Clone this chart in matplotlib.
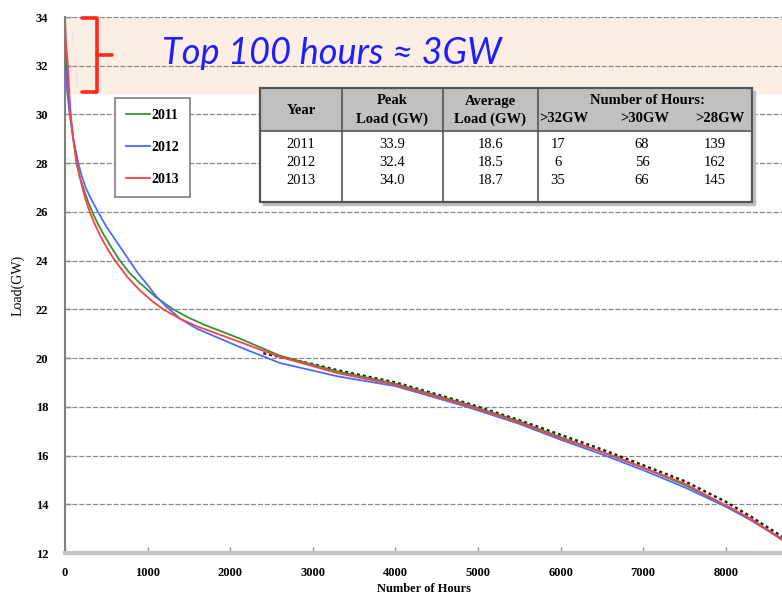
import matplotlib.pyplot as plt
from matplotlib.patches import Rectangle
from matplotlib.path import Path
from matplotlib.patches import PathPatch

# load duration curves (hours, GW)
hours_2011 = [0, 5, 17, 40, 68, 100, 139, 180, 220, 270, 330, 400, 480, 570, 665, 780, 900, 1100, 1310, 1500,
              1700, 2118, 2600, 3300, 4000, 4866, 5500, 6000, 6500, 7000, 7500, 8000, 8300, 8760]
load_2011 = [33.9, 33.0, 32.0, 31.0, 30.0, 29.0, 28.0, 27.4, 27.0, 26.5, 26.0, 25.5, 25.0, 24.5, 24.0, 23.5, 23.1,
             22.5, 22.0, 21.65, 21.35, 20.8, 20.1, 19.45, 18.95, 18.1, 17.4, 16.75, 16.15, 15.5, 14.8, 13.95,
             13.4, 12.4]

hours_2012 = [0, 6, 25, 56, 100, 162, 200, 250, 320, 400, 500, 600, 700, 780, 880, 1000, 1100, 1230, 1400,
              1600, 2118, 2600, 3300, 4000, 4866, 5500, 6000, 6500, 7000, 7500, 8000, 8300, 8760]
load_2012 = [32.4, 32.0, 31.0, 30.0, 29.0, 28.0, 27.5, 27.0, 26.5, 26.0, 25.4, 24.9, 24.4, 24.0, 23.5, 23.0,
             22.55, 22.1, 21.6, 21.2, 20.45, 19.8, 19.25, 18.85, 18.0, 17.3, 16.65, 16.05, 15.4, 14.7, 13.9,
             13.35, 12.4]

hours_2013 = [0, 10, 35, 50, 66, 100, 145, 175, 210, 250, 300, 360, 430, 510, 605, 750, 900, 1050, 1190, 1400,
              1600, 2118, 2600, 3300, 4000, 4866, 5500, 6000, 6500, 7000, 7500, 8000, 8300, 8760]
load_2013 = [34.0, 33.0, 32.0, 31.0, 30.0, 29.0, 28.0, 27.5, 27.0, 26.5, 26.0, 25.5, 25.0, 24.5, 24.0, 23.35,
             22.8, 22.35, 22.0, 21.6, 21.3, 20.66, 20.05, 19.38, 18.9, 18.05, 17.35, 16.7, 16.15, 15.5, 14.85,
             13.95, 13.4, 12.35]

# dark dotted curve underneath (no legend entry)
hours_blk = [2400, 3000, 3300, 4000, 4866, 5500, 6000, 6500, 7000, 7500, 8000, 8300, 8760]
load_blk = [20.2, 19.75, 19.5, 19.0, 18.15, 17.45, 16.85, 16.25, 15.6, 14.95, 14.1, 13.5, 12.5]

# summary table
years = ['2011', '2012', '2013']
peak = ['33.9', '32.4', '34.0']
avg = ['18.6', '18.5', '18.7']
hrs32 = ['17', '6', '35']
hrs30 = ['68', '56', '66']
hrs28 = ['139', '162', '145']

serif = 'Liberation Serif'

fig = plt.figure(figsize=(7.82, 5.95), dpi=100)
ax = fig.add_axes([65/782, 42/595, 717/782, 536/595])

ax.axhspan(30.9, 34, color='#fdeee5', zorder=0)
for y in range(14, 35, 2):
    ax.axhline(y, color='#8a8a8a', lw=0.9, dashes=(4, 1.5), zorder=1)

ax.plot(hours_blk, load_blk, color='#222222', lw=1.8, dashes=(1.2, 1.2), zorder=2)
ax.plot(hours_2011, load_2011, color='#3c8c3c', lw=1.3, label='2011', zorder=3)
ax.plot(hours_2012, load_2012, color='#4a6cff', lw=1.3, label='2012', zorder=3)
ax.plot(hours_2013, load_2013, color='#ff4040', lw=1.3, label='2013', zorder=4)

ax.set_xlim(0, 8680)
ax.set_ylim(12, 34)
ax.set_xticks(range(0, 9000, 1000))
ax.set_yticks(range(12, 35, 2))
for s in ['top', 'right']:
    ax.spines[s].set_visible(False)
ax.spines['left'].set_color('#808080')
ax.spines['left'].set_linewidth(1.5)
ax.spines['bottom'].set_color('#c4c4c4')
ax.spines['bottom'].set_linewidth(3)
ax.tick_params(direction='in', length=4, color='#909090', width=1)
ax.tick_params(axis='x', pad=10)
ax.tick_params(axis='y', pad=12)
for lab in ax.get_xticklabels() + ax.get_yticklabels():
    lab.set_fontfamily(serif)
    lab.set_fontweight('bold')
    lab.set_fontsize(9)
ax.set_xlabel('Number of Hours', fontfamily=serif, fontweight='bold', fontsize=9, labelpad=3)
ax.set_ylabel('Load(GW)', fontfamily=serif, fontsize=10, labelpad=8)

leg = ax.legend(loc='upper left', bbox_to_anchor=(0.0697, 0.849), handlelength=1.7,
                handletextpad=0.1, labelspacing=1.35, borderpad=0.8, borderaxespad=0,
                fancybox=False, edgecolor='#808080', framealpha=1,
                prop={'family': serif, 'weight': 'bold', 'size': 10})
leg.get_frame().set_linewidth(1.2)
leg.set_zorder(6)

# overlay in pixel coords for bracket, caption and table
ov = fig.add_axes([0, 0, 1, 1])
ov.set_xlim(0, 782)
ov.set_ylim(595, 0)
ov.axis('off')

bracket = Path([(82, 18), (97, 18), (97, 25), (97, 48), (97, 55), (112, 55), (97, 55),
                (97, 62), (97, 86), (97, 92), (82, 92)],
               [Path.MOVETO, Path.LINETO, Path.LINETO, Path.LINETO, Path.LINETO, Path.LINETO,
                Path.MOVETO, Path.LINETO, Path.LINETO, Path.LINETO, Path.LINETO])
ov.add_patch(PathPatch(bracket, fill=False, edgecolor='#ff2a1a', lw=2.6, capstyle='round',
                       joinstyle='round'))
ov.text(162, 53, 'Top 100 hours \u2248 3GW', color='#1e1eff', fontsize=26, style='italic',
        family='Lato', va='center', ha='left')

# table
x0, x1 = 260, 752
cols = [260, 342, 443, 538, 752]
sub = [564, 645, 720]
top, hdr, bot = 88, 131, 202
ov.add_patch(Rectangle((x0 + 3, top + 3), x1 - x0, bot - top, color='#bdbdbd', zorder=1))
ov.add_patch(Rectangle((x0, top), x1 - x0, hdr - top, facecolor='#c0c0c0', edgecolor='none', zorder=2))
ov.add_patch(Rectangle((x0, hdr), x1 - x0, bot - hdr, facecolor='white', edgecolor='none', zorder=2))
ov.add_patch(Rectangle((x0, top), x1 - x0, bot - top, fill=False, edgecolor='#555555', lw=1.6, zorder=3))
ov.plot([x0, x1], [hdr, hdr], color='#555555', lw=1.2, zorder=3)
for c in cols[1:-1]:
    ov.plot([c, c], [top, bot], color='#555555', lw=1.2, zorder=3)

hkw = dict(family=serif, fontweight='bold', fontsize=10.5, ha='center', va='center', zorder=4)
ov.text((cols[0] + cols[1]) / 2, 111, 'Year', **hkw)
ov.text((cols[1] + cols[2]) / 2, 101, 'Peak', **hkw)
ov.text((cols[1] + cols[2]) / 2, 119, 'Load (GW)', **hkw)
ov.text((cols[2] + cols[3]) / 2, 101, 'Average', **hkw)
ov.text((cols[2] + cols[3]) / 2, 119, 'Load (GW)', **hkw)
ov.text((cols[3] + cols[4]) / 2 + 2, 101, 'Number of Hours:', **hkw)
for sx, t in zip(sub, ['>32GW', '>30GW', '>28GW']):
    ov.text(sx, 119, t, **hkw)

bkw = dict(family=serif, fontsize=10.5, ha='center', va='center', zorder=4)
for i, yr in enumerate(years):
    ry = 145 + i * 17.5
    ov.text((cols[0] + cols[1]) / 2, ry, yr, **bkw)
    ov.text((cols[1] + cols[2]) / 2, ry, peak[i], **bkw)
    ov.text((cols[2] + cols[3]) / 2, ry, avg[i], **bkw)
    ov.text(sub[0] - 6, ry, hrs32[i], **bkw)
    ov.text(sub[1] - 3, ry, hrs30[i], **bkw)
    ov.text(sub[2] - 5, ry, hrs28[i], **bkw)

fig.savefig('out.png', dpi=100)
